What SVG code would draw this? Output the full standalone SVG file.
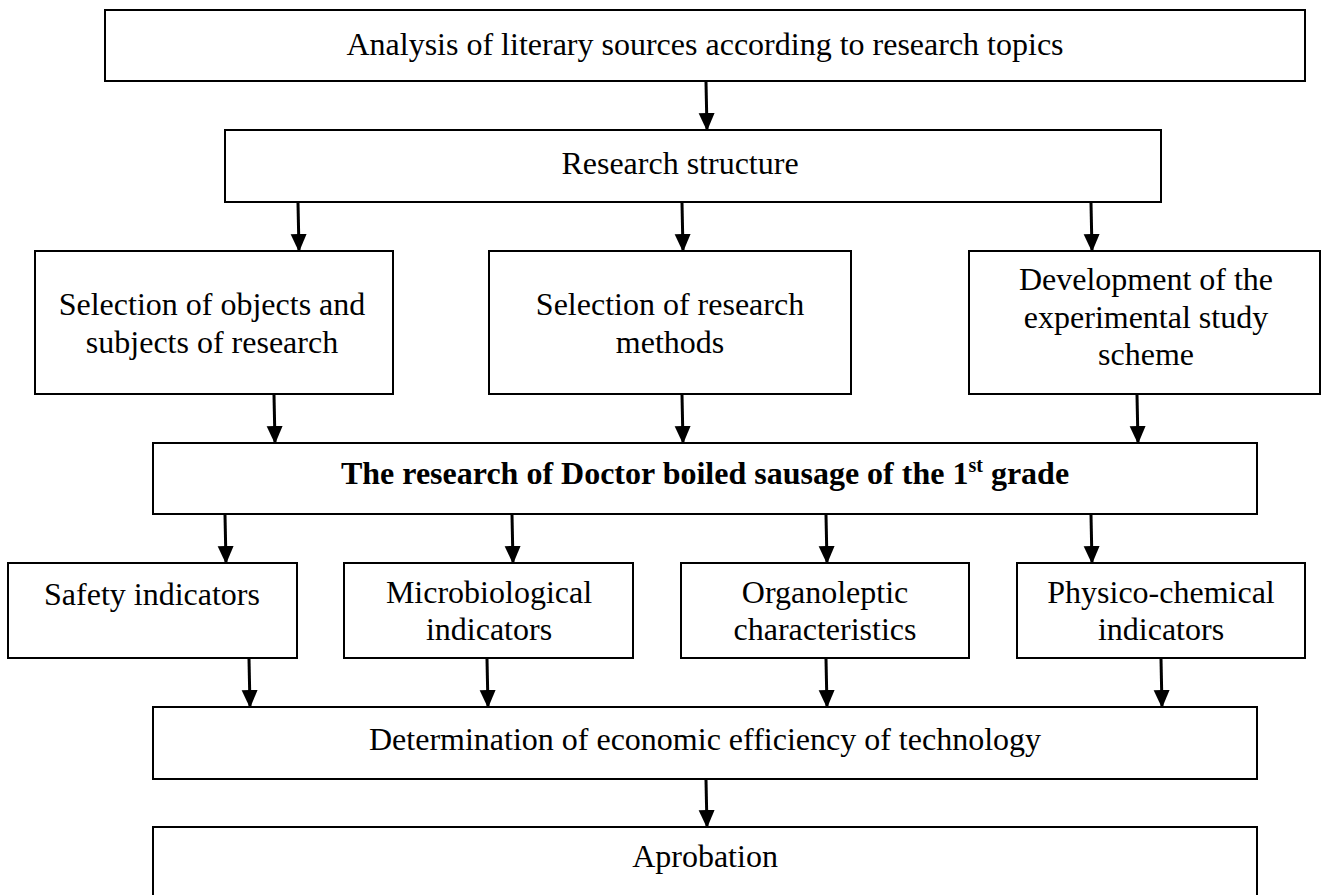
<svg xmlns="http://www.w3.org/2000/svg" width="1325" height="895" viewBox="0 0 1325 895">
<style>
.box{fill:#fff;stroke:#000;stroke-width:2}
.t{font-family:"Liberation Serif","Times New Roman",serif;font-size:32px;fill:#000;text-anchor:middle}
.b{font-weight:bold}
.c{stroke:#000;stroke-width:3;fill:none}
</style>
<defs>
<marker id="ah" markerUnits="userSpaceOnUse" markerWidth="18" markerHeight="20" refX="17" refY="8" orient="auto">
<path d="M0,0 L18,8 L0,16 Z" fill="#000"/>
</marker>
</defs>
<rect width="1325" height="895" fill="#fff"/>
<g id="n1"><rect class="box" x="105" y="10" width="1200" height="71"/><text class="t" x="705" y="55">Analysis of literary sources according to research topics</text></g>
<g id="n2"><rect class="box" x="225" y="130" width="936" height="72"/><text class="t" x="680" y="174">Research structure</text></g>
<g id="n3"><rect class="box" x="35" y="251" width="358" height="143"/><text class="t" x="212" y="315">Selection of objects and</text><text class="t" x="212" y="353">subjects of research</text></g>
<g id="n4"><rect class="box" x="489" y="251" width="362" height="143"/><text class="t" x="670" y="315">Selection of research</text><text class="t" x="670" y="353">methods</text></g>
<g id="n5"><rect class="box" x="969" y="251" width="351" height="143"/><text class="t" x="1146" y="290">Development of the</text><text class="t" x="1146" y="328">experimental study</text><text class="t" x="1146" y="365">scheme</text></g>
<g id="n6"><rect class="box" x="153" y="443" width="1104" height="71"/><text class="t b" x="705" y="484">The research of Doctor boiled sausage of the 1<tspan font-size="20" dy="-12">st</tspan><tspan dy="12"> grade</tspan></text></g>
<g id="n7"><rect class="box" x="8" y="563" width="289" height="95"/><text class="t" x="152" y="605">Safety indicators</text></g>
<g id="n8"><rect class="box" x="344" y="563" width="289" height="95"/><text class="t" x="489" y="603">Microbiological</text><text class="t" x="489" y="640">indicators</text></g>
<g id="n9"><rect class="box" x="681" y="563" width="288" height="95"/><text class="t" x="825" y="603">Organoleptic</text><text class="t" x="825" y="640">characteristics</text></g>
<g id="n10"><rect class="box" x="1017" y="563" width="288" height="95"/><text class="t" x="1161" y="603">Physico-chemical</text><text class="t" x="1161" y="640">indicators</text></g>
<g id="n11"><rect class="box" x="153" y="707" width="1104" height="72"/><text class="t" x="705" y="750">Determination of economic efficiency of technology</text></g>
<g id="n12"><rect class="box" x="153" y="827" width="1104" height="80"/><text class="t" x="705" y="867">Aprobation</text></g>
<g id="connectors" class="c">
<line x1="706" y1="82" x2="707" y2="130" marker-end="url(#ah)"/>
<line x1="298" y1="203" x2="299" y2="251" marker-end="url(#ah)"/>
<line x1="682" y1="203" x2="683" y2="251" marker-end="url(#ah)"/>
<line x1="1091" y1="203" x2="1092" y2="251" marker-end="url(#ah)"/>
<line x1="274" y1="395" x2="275" y2="443" marker-end="url(#ah)"/>
<line x1="682" y1="395" x2="683" y2="443" marker-end="url(#ah)"/>
<line x1="1137" y1="395" x2="1138" y2="443" marker-end="url(#ah)"/>
<line x1="225" y1="515" x2="226" y2="563" marker-end="url(#ah)"/>
<line x1="512" y1="515" x2="513" y2="563" marker-end="url(#ah)"/>
<line x1="826" y1="515" x2="827" y2="563" marker-end="url(#ah)"/>
<line x1="1091" y1="515" x2="1092" y2="563" marker-end="url(#ah)"/>
<line x1="249" y1="659" x2="250" y2="707" marker-end="url(#ah)"/>
<line x1="487" y1="659" x2="488" y2="707" marker-end="url(#ah)"/>
<line x1="826" y1="659" x2="827" y2="707" marker-end="url(#ah)"/>
<line x1="1161" y1="659" x2="1162" y2="707" marker-end="url(#ah)"/>
<line x1="706" y1="780" x2="707" y2="827" marker-end="url(#ah)"/>
</g>
</svg>
